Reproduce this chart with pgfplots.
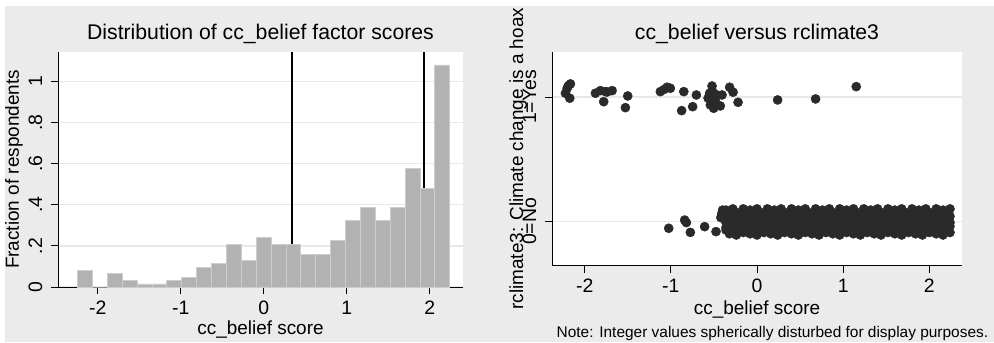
\documentclass[border=0pt]{standalone}
\usepackage{pgfplots}
\pgfplotsset{compat=1.18}
\usepackage{pgfplotstable}
\usepackage{fontspec}
\setmainfont{Liberation Sans}
\definecolor{bggray}{RGB}{235,235,235}
\definecolor{barfill}{RGB}{178,178,178}
\definecolor{baredge}{RGB}{205,205,205}
\definecolor{gridgray}{RGB}{232,232,232}
\definecolor{dotcol}{RGB}{42,42,42}
\newcommand{\ticksize}{\fontsize{19.5}{22}\selectfont}
\newcommand{\labsize}{\fontsize{19}{22}\selectfont}
\newcommand{\titlesize}{\fontsize{21.3}{24}\selectfont}
\newcommand{\notesize}{\fontsize{15.5}{17}\selectfont}

% histogram: left bin edge, fraction (last row = right edge)
\pgfplotstableread{
x y
-2.245 0.081
-2.066 0.000
-1.886 0.065
-1.707 0.032
-1.527 0.015
-1.348 0.015
-1.169 0.032
-0.989 0.047
-0.810 0.096
-0.630 0.113
-0.451 0.209
-0.271 0.130
-0.092 0.241
0.088 0.209
0.267 0.209
0.446 0.157
0.626 0.157
0.805 0.228
0.985 0.324
1.164 0.389
1.343 0.324
1.523 0.389
1.702 0.579
1.882 0.481
2.061 1.081
2.241 1.081
}\histdata

% rclimate3 = 1 (jittered)
\pgfplotstableread{
x y
-2.166 1.105
-2.224 1.030
-2.174 0.990
-2.204 1.070
-2.190 1.090
-1.876 1.030
-1.818 1.051
-1.760 1.043
-1.682 1.051
-1.780 0.962
-1.740 1.040
-1.501 1.008
-1.528 0.914
-1.122 1.043
-1.044 1.078
-1.006 1.070
-1.080 1.060
-0.850 1.043
-0.704 1.016
-0.875 0.890
-0.747 0.922
-0.522 1.088
-0.550 1.030
-0.464 1.016
-0.406 1.016
-0.542 0.936
-0.503 0.909
-0.426 0.928
-0.568 0.990
-0.484 0.976
-0.520 1.050
-0.318 1.078
-0.278 1.038
-0.220 0.957
0.239 0.976
0.680 0.984
1.152 1.083
}\yesdata

% rclimate3 = 0, sparse left part
\pgfplotstableread{
x y
-1.025 -0.056
-0.840 0.010
-0.820 -0.010
-0.774 -0.089
-0.608 -0.043
-0.476 -0.083
-0.400 0.090
-0.420 0.030
-0.410 0.060
}\nosparse

% rclimate3 = 0, dense part
\pgfplotstableread{
x ya yb yc yd ye
-0.36 0.09 -0.01 -0.07 0.05 -0.05
-0.32 0.05 0.02 -0.10 -0.04 0.04
-0.28 0.10 -0.02 -0.05 0.03 -0.03
-0.24 0.07 0.01 -0.11 -0.06 0.06
-0.20 0.04 0.00 -0.08 0.06 -0.06
-0.16 0.10 -0.01 -0.09 -0.03 0.03
-0.12 0.06 0.02 -0.07 0.04 -0.04
-0.08 0.09 -0.02 -0.10 -0.05 0.05
-0.04 0.05 0.01 -0.05 0.05 -0.05
0.00 0.10 0.00 -0.11 -0.04 0.04
0.04 0.07 -0.01 -0.08 0.03 -0.03
0.08 0.04 0.02 -0.09 -0.06 0.06
0.12 0.10 -0.02 -0.07 0.06 -0.06
0.16 0.06 0.01 -0.10 -0.03 0.03
0.20 0.09 0.00 -0.05 0.04 -0.04
0.24 0.05 -0.01 -0.11 -0.05 0.05
0.28 0.10 0.02 -0.08 0.05 -0.05
0.32 0.07 -0.02 -0.09 -0.04 0.04
0.36 0.04 0.01 -0.07 0.03 -0.03
0.40 0.10 0.00 -0.10 -0.06 0.06
0.44 0.06 -0.01 -0.05 0.06 -0.06
0.48 0.09 0.02 -0.11 -0.03 0.03
0.52 0.05 -0.02 -0.08 0.04 -0.04
0.56 0.10 0.01 -0.09 -0.05 0.05
0.60 0.07 0.00 -0.07 0.05 -0.05
0.64 0.04 -0.01 -0.10 -0.04 0.04
0.68 0.10 0.02 -0.05 0.03 -0.03
0.72 0.06 -0.02 -0.11 -0.06 0.06
0.76 0.09 0.01 -0.08 0.06 -0.06
0.80 0.05 0.00 -0.09 -0.03 0.03
0.84 0.10 -0.01 -0.07 0.04 -0.04
0.88 0.07 0.02 -0.10 -0.05 0.05
0.92 0.04 -0.02 -0.05 0.05 -0.05
0.96 0.10 0.01 -0.11 -0.04 0.04
1.00 0.06 0.00 -0.08 0.03 -0.03
1.04 0.09 -0.01 -0.09 -0.06 0.06
1.08 0.05 0.02 -0.07 0.06 -0.06
1.12 0.10 -0.02 -0.10 -0.03 0.03
1.16 0.07 0.01 -0.05 0.04 -0.04
1.20 0.04 0.00 -0.11 -0.05 0.05
1.24 0.10 -0.01 -0.08 0.05 -0.05
1.28 0.06 0.02 -0.09 -0.04 0.04
1.32 0.09 -0.02 -0.07 0.03 -0.03
1.36 0.05 0.01 -0.10 -0.06 0.06
1.40 0.10 0.00 -0.05 0.06 -0.06
1.44 0.07 -0.01 -0.11 -0.03 0.03
1.48 0.04 0.02 -0.08 0.04 -0.04
1.52 0.10 -0.02 -0.09 -0.05 0.05
1.56 0.06 0.01 -0.07 0.05 -0.05
1.60 0.09 0.00 -0.10 -0.04 0.04
1.64 0.05 -0.01 -0.05 0.03 -0.03
1.68 0.10 0.02 -0.11 -0.06 0.06
1.72 0.07 -0.02 -0.08 0.06 -0.06
1.76 0.04 0.01 -0.09 -0.03 0.03
1.80 0.10 0.00 -0.07 0.04 -0.04
1.84 0.06 -0.01 -0.10 -0.05 0.05
1.88 0.09 0.02 -0.05 0.05 -0.05
1.92 0.05 -0.02 -0.11 -0.04 0.04
1.96 0.10 0.01 -0.08 0.03 -0.03
2.00 0.07 0.00 -0.09 -0.06 0.06
2.04 0.04 -0.01 -0.07 0.06 -0.06
2.08 0.10 0.02 -0.10 -0.03 0.03
2.12 0.06 -0.02 -0.05 0.04 -0.04
2.16 0.09 0.01 -0.11 -0.05 0.05
2.20 0.05 0.00 -0.08 0.05 -0.05
2.24 0.10 -0.01 -0.09 -0.04 0.04
}\nodense

\pgfplotsset{
  stata/.style={
    scale only axis,
    axis x line*=bottom,
    axis y line*=left,
    axis line style={black, line width=0.9bp, -},
    tick style={black, line width=0.9bp},
    major tick length=7bp,
    tick align=outside,
    axis background/.style={fill=white},
    ymajorgrids,
    major grid style={gridgray, line width=1.3bp},
    /pgf/number format/assume math mode=true,
    xticklabel style={font=\ticksize, anchor=base, inner sep=0bp, yshift=-20bp},
    yticklabel style={font=\ticksize, xshift=-9bp, rotate=90, anchor=base},
    title style={font=\titlesize, at={(axis description cs:0.5,1)}, anchor=base, yshift=7bp},
    xlabel style={font=\labsize, at={(axis description cs:0.5,0)}, anchor=base, inner sep=0bp},
    ylabel style={font=\labsize, anchor=base},
    clip=false,
  },
  dots/.style={only marks, mark=*, mark size=4.6bp, mark options={fill=dotcol, draw=dotcol}},
}

\begin{document}
\begin{tikzpicture}[x=1bp,y=1bp]
\path[use as bounding box] (0,0) rectangle (994,342);
\fill[bggray] (5,0) rectangle (994,336);

% ---------- left: histogram ----------
\begin{axis}[stata,
  at={(58bp,55bp)}, anchor=south west,
  width=405bp, height=235bp,
  xmin=-2.48, xmax=2.40, ymin=0, ymax=1.144,
  xtick={-2,-1,0,1,2}, xticklabels={-2,-1,0,1,2},
  ytick={0,0.2,0.4,0.6,0.8,1}, yticklabels={0,.2,.4,.6,.8,1},
  title={Distribution of cc\_belief factor scores},
  xlabel={cc\_belief score},
  xlabel style={yshift=-47bp},
  ylabel={Fraction of respondents},
  ylabel style={at={(axis description cs:-0.0963,0.5)}},
]
\addplot[black, line width=1.2bp] coordinates {(0.34,0) (0.34,1.144)};
\addplot[black, line width=1.2bp] coordinates {(1.93,0) (1.93,1.144)};
\addplot[ybar interval, fill=barfill, draw=baredge, line width=0.8bp] table[x=x,y=y] {\histdata};
\end{axis}

% ---------- right: scatter ----------
\begin{axis}[stata,
  at={(552bp,76.3bp)}, anchor=south west,
  width=410bp, height=214bp,
  xmin=-2.38, xmax=2.38, ymin=-0.357, ymax=1.364,
  xtick={-2,-1,0,1,2}, xticklabels={-2,-1,0,1,2},
  ytick={0,1}, yticklabels={0=No,1=Yes},
  title={cc\_belief versus rclimate3},
  title style={yshift=-0.3bp},
  xlabel={cc\_belief score},
  xlabel style={yshift=-48.6bp},
  ylabel={rclimate3: Climate change is a hoax},
  ylabel style={at={(axis description cs:-0.0707,0.5)}},
]
\addplot[dots] table[x=x,y=y] {\yesdata};
\addplot[dots] table[x=x,y=y] {\nosparse};
\addplot[dots] table[x=x,y=ya] {\nodense};
\addplot[dots] table[x=x,y=yb] {\nodense};
\addplot[dots] table[x=x,y=yc] {\nodense};
\addplot[dots] table[x=x,y=yd] {\nodense};
\addplot[dots] table[x=x,y=ye] {\nodense};
\node[font=\notesize, anchor=base east] at (axis description cs:1.0724,-0.3346) {Note: Integer values spherically disturbed for display purposes.};
\end{axis}
\end{tikzpicture}
\end{document}
